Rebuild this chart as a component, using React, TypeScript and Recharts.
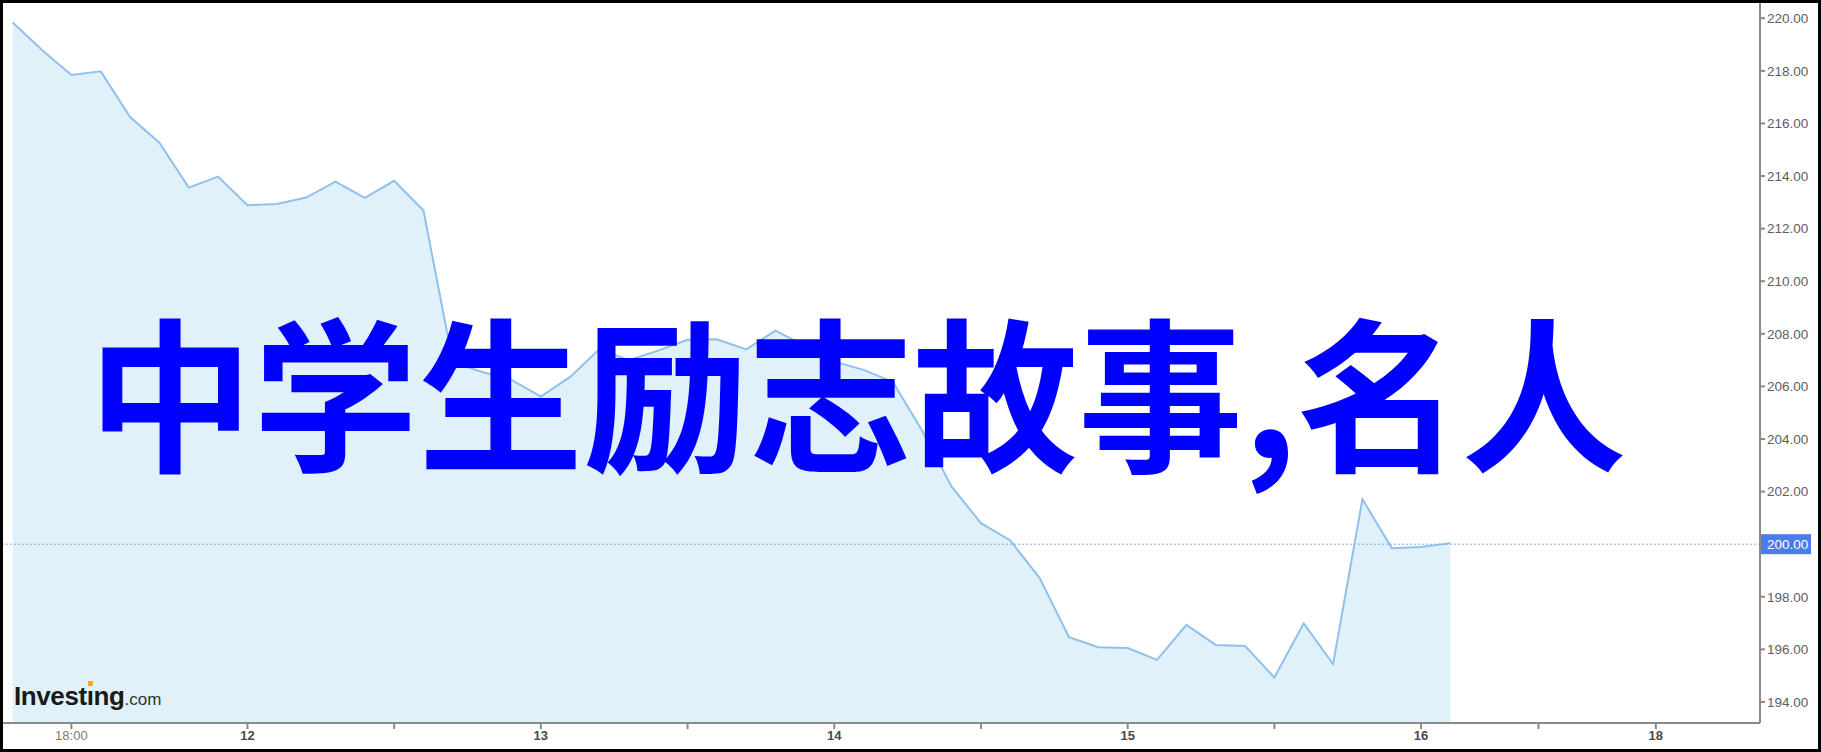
import { AreaChart, Area, XAxis, YAxis, ReferenceLine } from 'recharts'

// hourly closes, one per trading hour (10 per day)
const prices = [
  219.84, 218.79, 217.84, 217.98, 216.24, 215.27, 213.56, 213.98, 212.89, 212.94,
  213.18, 213.79, 213.17, 213.82, 212.69, 206.93, 206.55, 206.25, 205.61, 206.36,
  207.42, 207.0, 207.36, 207.77, 207.79, 207.41, 208.12, 207.54, 206.94, 206.63,
  206.17, 204.3, 202.19, 200.8, 200.14, 198.71, 196.46, 196.08, 196.05, 195.6,
  196.93, 196.17, 196.13, 194.93, 196.99, 195.44, 201.71, 199.85, 199.89, 200.04,
]

const tickPositions = [2, 8, 13, 18, 23, 28, 33, 38, 43, 48, 52, 56]
const tickLabels = ['18:00', '12', '', '13', '', '14', '', '15', '', '16', '', '18']
const priceTicks = [194, 196, 198, 200, 202, 204, 206, 208, 210, 212, 214, 216, 218, 220]
const lastPrice = 200
const headline = '中学生励志故事,名人'

const chartData = prices.map((price, i) => ({ t: i, price }))

const XTick = (props: any) => {
  const { x, y, payload } = props
  const label = tickLabels[tickPositions.indexOf(payload.value)] ?? ''
  const isTime = label.includes(':')
  return (
    <text
      x={x}
      y={y}
      dy="0.71em"
      textAnchor="middle"
      fontSize={13}
      fontFamily="'Liberation Sans', Arial, sans-serif"
      fontWeight={isTime ? 'normal' : 'bold'}
      fill={isTime ? '#7a7a7a' : '#4a4a4a'}
    >
      {label}
    </text>
  )
}

const YTick = (props: any) => {
  const { x, y, payload } = props
  const text = Number(payload.value).toFixed(2)
  if (payload.value === lastPrice) {
    return (
      <g>
        <rect x={x - 6} y={y - 10} width={50} height={20} fill="#4a7de6" />
        <text x={x} y={y} dy="0.355em" fontSize={13.5} fill="#fff" fontFamily="'Liberation Sans', Arial, sans-serif">
          {text}
        </text>
      </g>
    )
  }
  return (
    <text x={x} y={y} dy="0.355em" fontSize={13.5} fill="#5e5e5e" fontFamily="'Liberation Sans', Arial, sans-serif">
      {text}
    </text>
  )
}

const App = () => {
  return (
    <div
      style={{
        position: 'absolute',
        left: 0,
        top: 0,
        width: 1821,
        height: 752,
        boxSizing: 'border-box',
        border: '3px solid #000',
        background: '#fff',
      }}
    >
      <AreaChart width={1815} height={746} data={chartData} margin={{ top: 0, right: 0, bottom: 0, left: 0 }}>
        <XAxis
          dataKey="t"
          type="number"
          domain={[-0.33, 59.55]}
          ticks={tickPositions}
          tick={<XTick />}
          tickSize={6}
          height={26}
          stroke="#8a8a8a"
          strokeWidth={2}
          allowDataOverflow
        />
        <YAxis
          orientation="right"
          type="number"
          domain={[193.2, 220.58]}
          ticks={priceTicks}
          tick={<YTick />}
          tickSize={5}
          width={58}
          stroke="#8a8a8a"
          strokeWidth={2}
          allowDataOverflow
        />
        <Area
          type="linear"
          dataKey="price"
          stroke="#8fc1ee"
          strokeWidth={2}
          fill="#e0f1fa"
          fillOpacity={1}
          isAnimationActive={false}
        />
        <ReferenceLine y={lastPrice} stroke="#86a8f2" strokeDasharray="2 2" />
      </AreaChart>
      <svg
        width={1815}
        height={746}
        style={{ position: 'absolute', left: 0, top: 0, pointerEvents: 'none' }}
      >
        {/* watermark logo */}
        <text x={11} y={702} fontSize={26} fontWeight="bold" letterSpacing={-0.4} fill="#1a1a1a" fontFamily="'Liberation Sans', Arial, sans-serif">
          Investıng
          <tspan fontSize={17} fontWeight="normal" letterSpacing={0} fill="#333">.com</tspan>
        </text>
        <rect x={85} y={678} width={5} height={5} fill="#f5a623" />
        {/* overlaid headline */}
        <text x={85} y={456} fontSize={165} fontWeight="bold" fill="#0000ff" fontFamily="'Noto Sans CJK SC', sans-serif">
          {headline}
        </text>
      </svg>
    </div>
  )
}

export default App
